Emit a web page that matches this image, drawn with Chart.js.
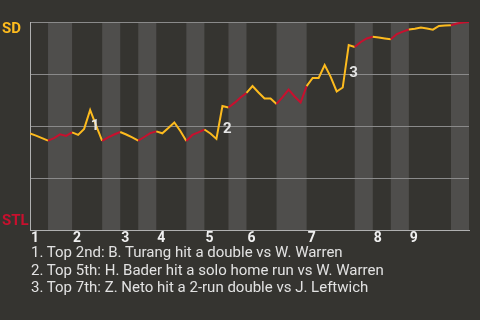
<!DOCTYPE html>
<html>
<head>
<meta charset="utf-8">
<script src="https://cdn.jsdelivr.net/npm/chart.js@4/dist/chart.umd.min.js"></script>
<style>
  body { margin: 0; background: #353430; font-family: Roboto, sans-serif; }
  #wrap { position: relative; width: 480px; height: 320px; }
  #notes { position: absolute; left: 31px; top: 244px; color: #e2e2e2; font-size: 15px; line-height: 17.7px; white-space: nowrap; }
</style>
</head>
<body>
<div id="wrap">
  <canvas id="wpChart"></canvas>
  <div id="notes"></div>
</div>
<script>
// SD win probability (%) after each plate appearance
const winProb = [
  46.4, 45.4, 44.2, 43.0, 44.2, 46.0, 45.2, 46.9, 45.7, 48.6,
  57.7, 50.2, 42.8, 44.5, 45.9, 47.1, 45.9, 44.5, 43.0, 44.7,
  46.6, 47.4, 46.5, 49.0, 51.7, 47.6, 42.8, 45.7, 46.9, 48.3,
  46.4, 43.8, 59.6, 58.9, 61.1, 63.7, 65.9, 69.2, 66.1, 63.2,
  63.2, 60.6, 63.9, 67.5, 64.2, 61.3, 69.2, 73.1, 73.1, 79.3,
  73.6, 66.6, 68.5, 88.9, 88.0, 90.4, 92.1, 92.9, 92.5, 92.1,
  91.7, 94.2, 95.4, 96.4, 96.8, 97.4, 96.9, 96.3, 98.1, 98.3,
  98.4, 99.3, 99.8, 100
];

// half-inning boundaries (play index)
const inningLabels = ['1', '2', '3', '4', '5', '6', '7', '8', '9'];
const topStarts = [0, 7, 15, 21, 29, 36, 46, 57, 63];
const bottomStarts = [3, 12, 18, 26, 33, 41, 54, 60, 70];
const bottomEnds = [7, 15, 21, 29, 36, 46, 57, 63, 73];

// key plays
const eventIdx = [10, 32, 53];
const eventNotes = [
  'Top 2nd: B. Turang hit a double vs W. Warren',
  'Top 5th: H. Bader hit a solo home run vs W. Warren',
  'Top 7th: Z. Neto hit a 2-run double vs J. Leftwich'
];

const SD_GOLD = '#fdbb1e';
const STL_RED = '#c8102e';

document.getElementById('notes').innerHTML =
  eventNotes.map((t, i) => `<div>${i + 1}. ${t}</div>`).join('');

const isBottom = i => bottomStarts.some((s, k) => i >= s && i < bottomEnds[k]);

const bandsPlugin = {
  id: 'bands',
  beforeDraw(chart) {
    const { ctx, chartArea: a, scales: { x } } = chart;
    ctx.save();
    ctx.fillStyle = '#4f4e4c';
    bottomStarts.forEach((s, k) => {
      const x0 = x.getPixelForValue(s);
      const x1 = x.getPixelForValue(bottomEnds[k]);
      ctx.fillRect(x0, a.top, x1 - x0, a.bottom - a.top);
    });
    ctx.restore();
  }
};

const labelsPlugin = {
  id: 'labels',
  afterDatasetsDraw(chart) {
    const { ctx, chartArea: a, scales: { x, y } } = chart;
    ctx.save();
    ctx.font = 'bold 15px Roboto';
    ctx.textAlign = 'left';
    ctx.textBaseline = 'alphabetic';
    ctx.fillStyle = SD_GOLD;
    ctx.fillText('SD', 2, a.top + 11.3);
    ctx.fillStyle = STL_RED;
    ctx.fillText('STL', 2, a.bottom - 4.7);

    ctx.fillStyle = '#e4e4e4';
    eventIdx.forEach((idx, i) => {
      const px = x.getPixelForValue(idx);
      const mid = (y.getPixelForValue(winProb[idx - 1]) + y.getPixelForValue(winProb[idx])) / 2;
      ctx.fillText(String(i + 1), px + 0.5, mid + 11);
    });
    ctx.restore();
  }
};

new Chart(document.getElementById('wpChart'), {
  type: 'line',
  data: {
    datasets: [{
      data: winProb.map((v, i) => ({ x: i, y: v })),
      borderWidth: 2,
      pointRadius: 0,
      tension: 0,
      borderColor: SD_GOLD,
      segment: {
        borderColor: c => isBottom(c.p0DataIndex) ? STL_RED : SD_GOLD
      }
    }]
  },
  options: {
    responsive: true,
    maintainAspectRatio: false,
    animation: false,
    layout: { padding: { left: 30, right: 11, top: 22, bottom: 70 } },
    plugins: { legend: { display: false }, tooltip: { enabled: false } },
    scales: {
      x: {
        type: 'linear',
        min: 0,
        max: winProb.length - 1,
        afterBuildTicks: s => { s.ticks = topStarts.map(v => ({ value: v })); },
        afterFit: s => { s.height = 20; },
        grid: { display: false, drawTicks: false },
        border: { display: true, color: '#b0b0b0', width: 1 },
        ticks: {
          autoSkip: false,
          maxRotation: 0,
          align: 'start',
          labelOffset: 1,
          padding: 0,
          color: '#f0f0f0',
          font: { family: 'Roboto', size: 14, weight: 'bold' },
          callback: (v, i) => inningLabels[i]
        }
      },
      y: {
        min: 0,
        max: 100,
        afterBuildTicks: s => { s.ticks = [0, 25, 50, 75, 100].map(v => ({ value: v })); },
        grid: { color: '#8a8a8a', drawTicks: false },
        border: { display: true, color: '#b0b0b0', width: 1 },
        ticks: { display: false }
      }
    }
  },
  plugins: [bandsPlugin, labelsPlugin]
});
</script>
</body>
</html>
